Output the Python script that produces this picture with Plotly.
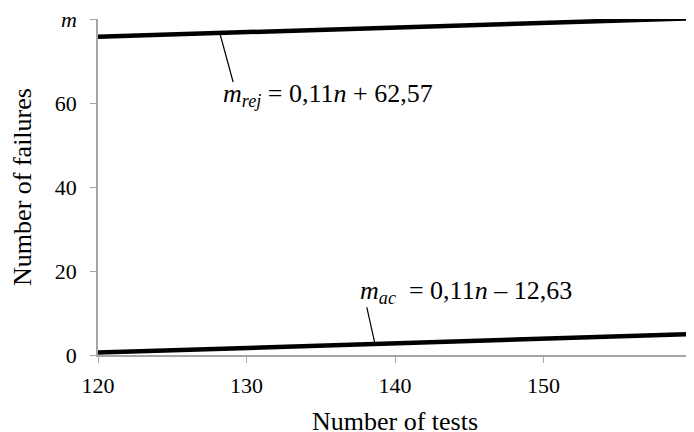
import plotly.graph_objects as go

# Data
n_values = [120, 160]
rej_slope, rej_intercept = 0.11, 62.57
ac_slope, ac_intercept = 0.11, -12.63
m_rej = [rej_slope * n + rej_intercept for n in n_values]
m_ac = [ac_slope * n + ac_intercept for n in n_values]

x_tickvals = [120, 130, 140, 150, 160]
x_ticktext = ["120", "130", "140", "150", "<i>n</i>"]
y_tickvals = [0, 20, 40, 60, 80]
y_ticktext = ["0", "20", "40", "60", "<i>m</i>"]
x_title = "Number of tests"
y_title = "Number of failures"

FONT = "Liberation Serif, Times New Roman, serif"
AXIS_COLOR = "#a6a6a6"

fig = go.Figure()
fig.add_trace(go.Scatter(x=n_values, y=m_rej, mode="lines",
                         line=dict(color="black", width=4.5), showlegend=False))
fig.add_trace(go.Scatter(x=n_values, y=m_ac, mode="lines",
                         line=dict(color="black", width=4.5), showlegend=False))

# leader lines
n_rej_pt = 128.2
n_ac_pt = 138.65
fig.add_shape(type="line", x0=n_rej_pt, y0=rej_slope * n_rej_pt + rej_intercept,
              x1=129.1, y1=65.0, line=dict(color="black", width=1.2))
fig.add_shape(type="line", x0=n_ac_pt, y0=ac_slope * n_ac_pt + ac_intercept,
              x1=138.1, y1=11.4, line=dict(color="black", width=1.2))

fig.add_annotation(x=128.3, y=62.0, xref="x", yref="y", xanchor="left", yanchor="middle",
                   showarrow=False,
                   text="<i>m</i><sub><i>rej</i></sub> = 0,11<i>n</i> + 62,57",
                   font=dict(family=FONT, size=26, color="black"))
fig.add_annotation(x=137.5, y=15.0, xref="x", yref="y", xanchor="left", yanchor="middle",
                   showarrow=False,
                   text="<i>m</i><sub><i>ac</i></sub>  = 0,11<i>n</i> – 12,63",
                   font=dict(family=FONT, size=26, color="black"))

# x-axis title placed as a paper annotation for exact vertical placement
fig.add_annotation(x=0.5, y=-0.199, xref="paper", yref="paper", xanchor="center",
                   yanchor="middle", showarrow=False, text=x_title,
                   font=dict(family=FONT, size=26, color="black"))

# page body has an 8px margin: the figure is shifted by (8, 8) in the window
fig.update_layout(
    width=686, height=424,
    margin=dict(l=90, r=2, t=11, b=77),
    paper_bgcolor="white", plot_bgcolor="white",
    font=dict(family=FONT, size=22, color="black"),
    xaxis=dict(range=[120, 160], tickvals=x_tickvals, ticktext=x_ticktext,
               automargin=False, ticklabeloverflow="allow",
               showgrid=False, zeroline=False, showline=True, linecolor=AXIS_COLOR,
               linewidth=1.5, ticks="outside", ticklen=6, tickcolor=AXIS_COLOR,
               ticklabelstandoff=4,
               tickfont=dict(family=FONT, size=22, color="black")),
    yaxis=dict(range=[0, 80], tickvals=y_tickvals, ticktext=y_ticktext,
               automargin=False, ticklabeloverflow="allow",
               showgrid=False, zeroline=False, showline=True, linecolor=AXIS_COLOR,
               linewidth=1.5, ticks="outside", ticklen=6, tickcolor=AXIS_COLOR,
               ticklabelstandoff=9,
               tickfont=dict(family=FONT, size=22, color="black"),
               title=dict(text=y_title, font=dict(family=FONT, size=26),
                          standoff=17)),
)

fig.write_html("out.html")
